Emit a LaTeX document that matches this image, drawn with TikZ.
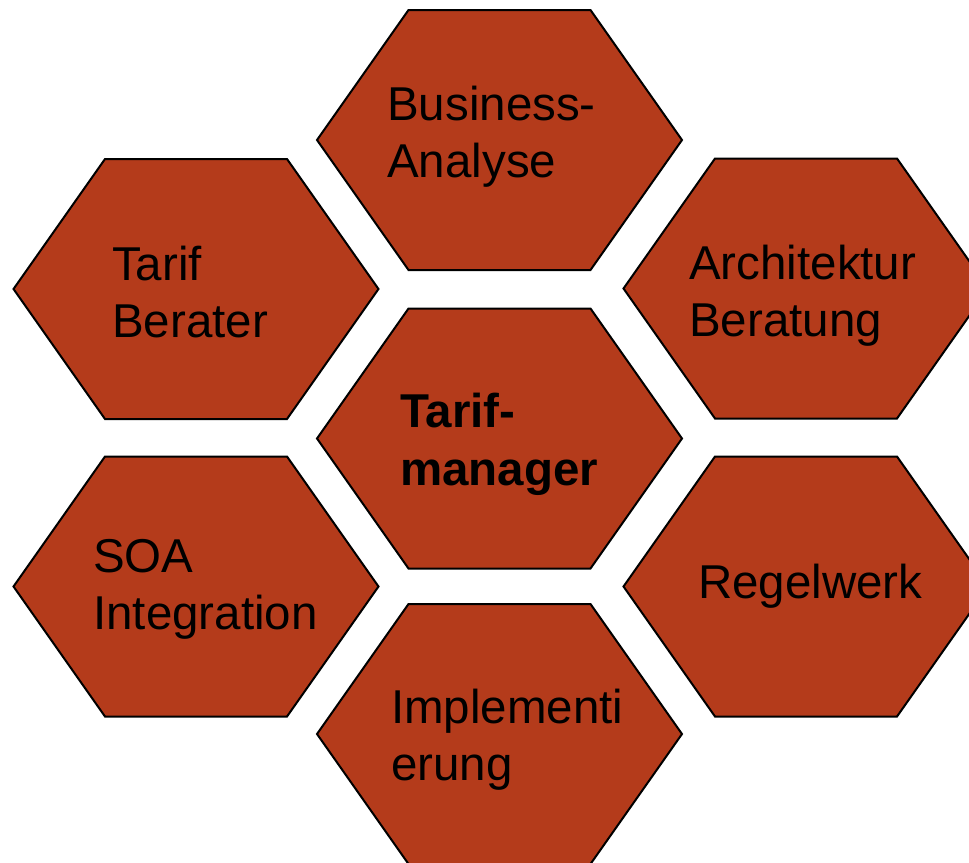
\documentclass[tikz,border=0pt]{standalone}
\usepackage{fontspec}
\setmainfont{Liberation Sans}
\usepackage{tikz}

\definecolor{rust}{RGB}{180,59,27}

\tikzset{
  hexcell/.style={fill=rust, draw=black, line width=2pt, line join=miter},
  hextext/.style={anchor=base west, inner sep=0pt, align=left,
    font=\fontsize{47.5}{57}\selectfont}
}

\begin{document}
\begin{tikzpicture}[x=1pt,y=-1pt]
  \useasboundingbox (0,0) rectangle (969,862);
  \clip (0,0) rectangle (969,862);
  % Hexagons
  \foreach \name/\cx/\cy in {business/499.5/140, berater/196/289,
      architektur/806/288.5, tarifmanager/499.5/438.5, soa/196/586.5,
      regelwerk/806/586.5, implementierung/499.5/734} {
    \coordinate (\name) at (\cx,\cy);
    \draw[hexcell] (\cx-182.5,\cy) -- (\cx-91,\cy-130) -- (\cx+91,\cy-130)
      -- (\cx+182.5,\cy) -- (\cx+91,\cy+130) -- (\cx-91,\cy+130) -- cycle;
  }
  % Labels (base = baseline of the last line)
  \node[hextext] (t-business) at (387,177) {Business-\\Analyse};
  \node[hextext] (t-berater) at (112,337) {Tarif\\Berater};
  \node[hextext] (t-architektur) at (689,336) {Architektur\\Beratung};
  \node[hextext, font=\fontsize{47.5}{58}\selectfont\bfseries] (t-tarifmanager) at (400,485) {Tarif-\\manager};
  \node[hextext] (t-soa) at (93,629) {SOA\\Integration};
  \node[hextext] (t-regelwerk) at (698,598) {Regelwerk};
  \node[hextext] (t-implementierung) at (391,780) {Implementi\\erung};
\end{tikzpicture}
\end{document}
